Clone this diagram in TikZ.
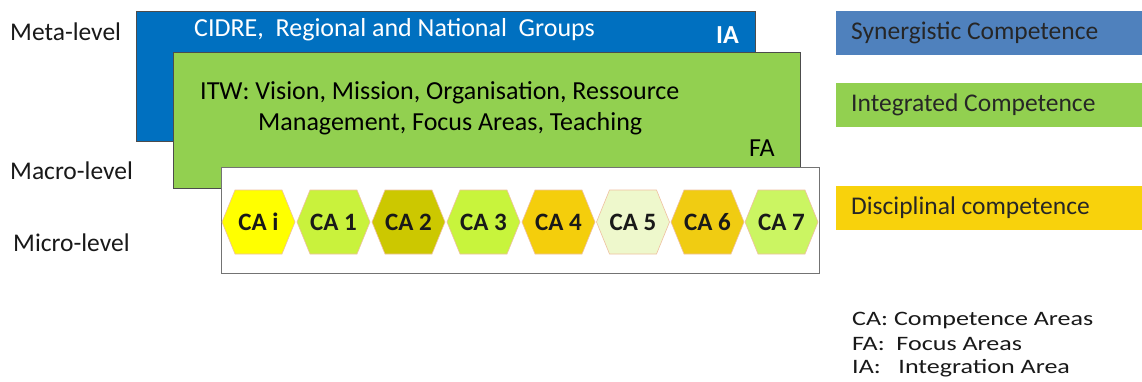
\documentclass[tikz,border=0pt]{standalone}
\usepackage{fontspec}
\setmainfont{Carlito}
\definecolor{iablue}{HTML}{0070C0}
\definecolor{fagreen}{HTML}{92D050}
\definecolor{synblue}{HTML}{4F81BD}
\definecolor{discgold}{HTML}{F8D20C}
\definecolor{hexedge}{HTML}{EFC0A0}
\definecolor{caI}{HTML}{FFFF00}
\definecolor{caA}{HTML}{C9F23C}
\definecolor{caB}{HTML}{CCC800}
\definecolor{caC}{HTML}{C8F43C}
\definecolor{caD}{HTML}{F4CE0C}
\definecolor{caE}{HTML}{EEF8CC}
\definecolor{caF}{HTML}{F0CC12}
\definecolor{caG}{HTML}{CBF562}
\tikzset{
  lvl/.style={anchor=west, inner sep=0pt, font=\fontsize{25.5}{30}\selectfont, text=black!90},
  layer/.style={draw=black!70, line width=0.8pt},
  bodytxt/.style={anchor=west, inner sep=0pt, font=\fontsize{26}{30}\selectfont},
  legendbar/.style={anchor=north west, inner sep=0pt, minimum width=306, minimum height=44},
  legendtxt/.style={anchor=west, inner sep=0pt, font=\fontsize{25.5}{30}\selectfont, text=black!85},
  hexcell/.style={draw=hexedge, line width=0.6pt},
  hexlabel/.style={inner sep=0pt, font=\bfseries\fontsize{25}{30}\selectfont, text=black!90},
  note/.style={anchor=west, inner sep=0pt, font=\fontsize{20.5}{24}\selectfont, text=black!90}
}
% one competence-area cell: centre x, fill colour, node name, label
\newcommand{\cacell}[4]{%
  \filldraw[hexcell, fill=#2]
    ({#1-36.5},222) -- ({#1-23.5},190) -- ({#1+23.5},190) -- ({#1+36.5},222)
    -- ({#1+23.5},254) -- ({#1-23.5},254) -- cycle;
  \node[hexlabel] (#3) at (#1,222) {#4};}
\newcommand{\widetext}[1]{\scalebox{1.27}[1]{#1}}
\begin{document}
\begin{tikzpicture}[x=1pt, y=-1pt]
\useasboundingbox (0,0) rectangle (1142,381);
\fill[white] (0,0) rectangle (1142,381);

% level labels
\node[lvl] (meta) at (10,32) {Meta-level};
\node[lvl] (macro) at (10,171) {Macro-level};
\node[lvl] (micro) at (13,243) {Micro-level};

% integration area layer
\filldraw[layer, fill=iablue] (136,11) rectangle (755,141);
\node[bodytxt, text=white] (cidre) at (194,30) {CIDRE,\ \ Regional and National\ \ Groups};
\node[bodytxt, text=white, font=\bfseries\fontsize{26}{30}\selectfont] (ia) at (716,35) {IA};

% focus area layer
\filldraw[layer, fill=fagreen] (173,52) rectangle (800,188);
\node[bodytxt] (itw1) at (200,93) {ITW: Vision, Mission, Organisation, Ressource};
\node[bodytxt] (itw2) at (258,124) {Management, Focus Areas, Teaching};
\node[bodytxt] (fa) at (749,148) {FA};

% competence area layer
\filldraw[draw=black!55, line width=0.8pt, fill=white] (221,167) rectangle (819,273);
\cacell{258.5}{caI}{cai}{CA i}
\cacell{333.5}{caA}{ca1}{CA 1}
\cacell{408.5}{caB}{ca2}{CA 2}
\cacell{483.5}{caC}{ca3}{CA 3}
\cacell{558.5}{caD}{ca4}{CA 4}
\cacell{633}{caE}{ca5}{CA 5}
\cacell{707.5}{caF}{ca6}{CA 6}
\cacell{781.5}{caG}{ca7}{CA 7}

% legend
\node[legendbar, fill=synblue] (synbar) at (836,11) {};
\node[legendtxt] (syn) at (851,33) {Synergistic Competence};
\node[legendbar, fill=fagreen] (intbar) at (836,83) {};
\node[legendtxt] (int) at (851,105) {Integrated Competence};
\node[legendbar, fill=discgold] (discbar) at (836,186) {};
\node[legendtxt] (disc) at (851,208) {Disciplinal competence};

% abbreviations
\node[note] (abca) at (852,320) {\widetext{CA: Competence Areas}};
\node[note] (abfa) at (852,344) {\widetext{FA:\ \ Focus Areas}};
\node[note] (abia) at (852,368) {\widetext{IA:\ \ \ Integration Area}};
\end{tikzpicture}
\end{document}
